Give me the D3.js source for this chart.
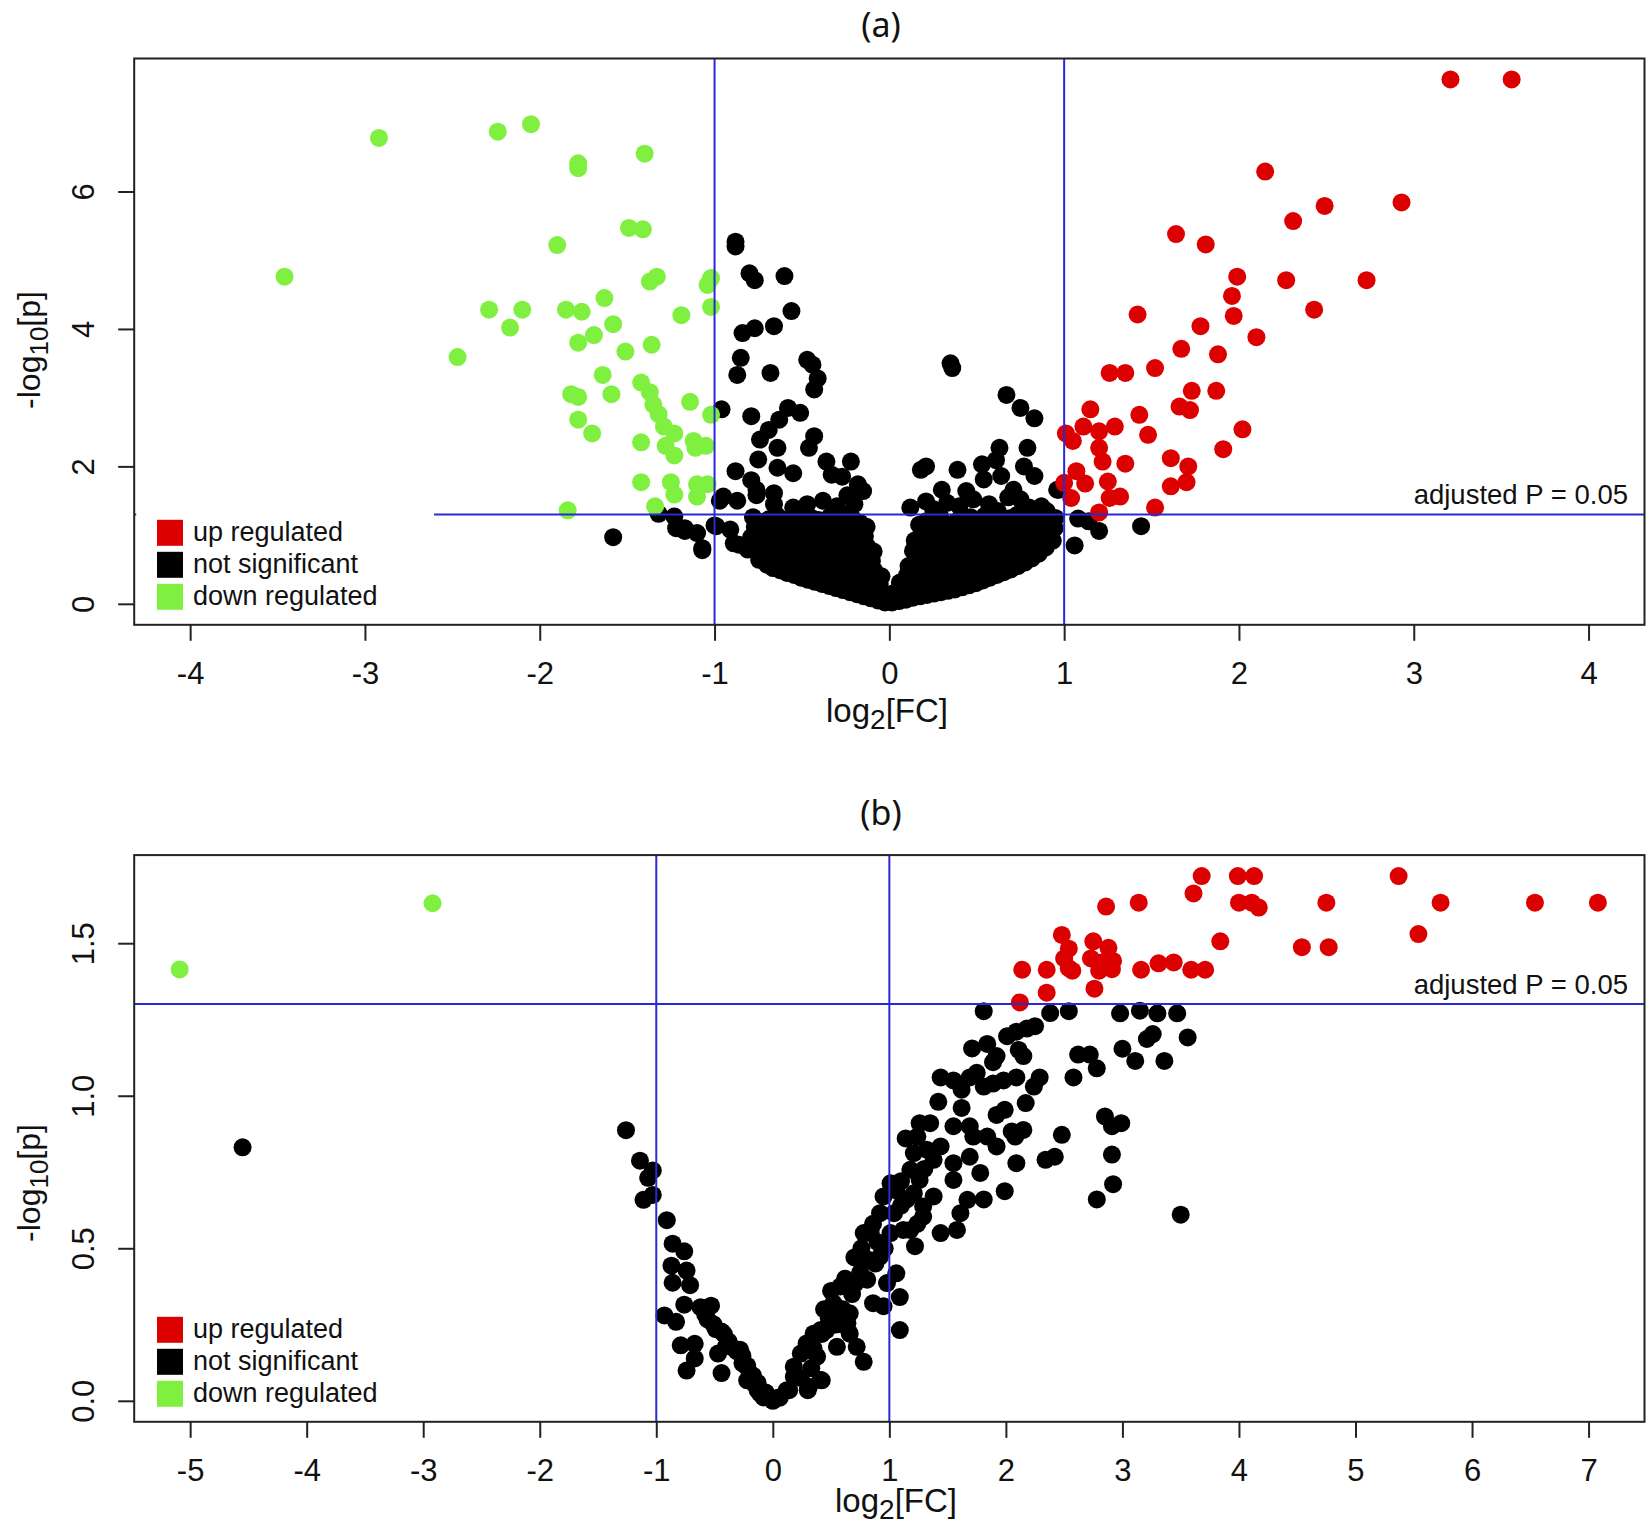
<!DOCTYPE html>
<html>
<head>
<meta charset="utf-8">
<script src="https://cdn.jsdelivr.net/npm/d3@7"></script>
<style>
  body { margin: 0; background: #fff; }
</style>
</head>
<body>
<svg id="chart" width="1650" height="1528"></svg>
<script>
// ---- panel (a): [log2 FC, -log10 p] ----
var upA = [
  [3.21,7.63],[3.56,7.63],[2.15,6.29],[2.93,5.84],[2.49,5.79],[2.31,5.57],[1.64,5.38],[1.81,5.23],
  [1.99,4.76],[2.27,4.71],[2.73,4.71],[1.96,4.48],[1.97,4.19],[2.43,4.28],[1.42,4.21],[1.78,4.04],
  [2.10,3.88],[1.67,3.71],[1.88,3.63],[1.52,3.43],[1.26,3.36],[1.35,3.36],[1.73,3.10],[1.87,3.10],
  [1.66,2.87],[1.72,2.82],[1.15,2.83],[1.43,2.75],[2.02,2.54],[1.48,2.46],[1.01,2.48],[1.05,2.37],
  [1.11,2.58],[1.20,2.51],[1.29,2.58],[1.20,2.27],[1.22,2.07],[1.91,2.25],[1.35,2.04],[1.61,2.12],
  [1.71,2.00],[1.70,1.77],[1.07,1.93],[1.12,1.75],[1.25,1.78],[1.61,1.71],[1.00,1.76],[1.04,1.54],
  [1.26,1.54],[1.32,1.56],[1.52,1.40],[1.20,1.33]
];
var downA = [
  [-2.92,6.78],[-2.24,6.87],[-2.05,6.98],[-1.40,6.55],[-1.78,6.41],[-1.78,6.34],[-1.49,5.47],[-1.41,5.45],
  [-1.90,5.22],[-3.46,4.76],[-1.37,4.69],[-1.33,4.76],[-1.02,4.74],[-1.04,4.64],[-1.02,4.32],[-1.63,4.45],
  [-2.29,4.28],[-2.10,4.28],[-2.17,4.02],[-1.85,4.28],[-1.76,4.25],[-1.58,4.07],[-1.19,4.20],[-1.69,3.91],
  [-1.78,3.80],[-1.51,3.67],[-1.36,3.77],[-2.47,3.59],[-1.64,3.33],[-1.42,3.22],[-1.37,3.08],[-1.35,2.90],
  [-1.32,2.76],[-1.82,3.05],[-1.78,3.01],[-1.59,3.05],[-1.14,2.94],[-1.02,2.75],[-1.78,2.68],[-1.70,2.48],
  [-1.29,2.58],[-1.23,2.48],[-1.28,2.30],[-1.23,2.16],[-1.12,2.37],[-1.05,2.30],[-1.11,2.27],[-1.42,2.35],
  [-1.42,1.77],[-1.25,1.77],[-1.23,1.59],[-1.10,1.74],[-1.04,1.74],[-1.10,1.56],[-1.34,1.42],[-1.84,1.36]
];
var nsA = [
  // scattered above the cut-off
  [-0.88,5.27],[-0.88,5.20],[-0.80,4.81],[-0.77,4.71],[-0.60,4.77],[-0.56,4.26],[-0.84,3.94],[-0.77,4.01],
  [-0.66,4.04],[-0.85,3.58],[-0.87,3.33],[-0.68,3.36],[-0.47,3.55],[-0.44,3.48],[-0.41,3.28],[-0.43,3.12],
  [-0.96,2.83],[-0.79,2.73],[-0.58,2.85],[-0.51,2.78],[-0.63,2.68],[-0.69,2.53],[-0.74,2.39],[-0.64,2.27],
  [-0.43,2.44],[-0.46,2.27],[-0.75,2.10],[-0.88,1.93],[-0.64,1.98],[-0.55,1.90],[-0.36,2.07],[-0.22,2.07],
  [-0.33,1.88],[-0.27,1.85],[-0.18,1.74],[-0.15,1.64],[-0.66,1.61],[-0.79,1.80],[-0.76,1.66],
  [0.36,3.43],[0.35,3.50],[0.67,3.04],[0.75,2.85],[0.83,2.70],[0.63,2.27],[0.79,2.27],[0.18,1.95],
  [0.21,2.00],[0.39,1.95],[0.53,2.03],[0.61,2.09],[0.77,2.00],[0.83,1.86],[0.30,1.66],[0.44,1.64],
  [0.54,1.81],[0.64,1.86],[0.71,1.66],[0.87,1.42],[0.97,1.66],[0.21,1.49],[0.33,1.47],[0.48,1.52],
  [0.75,1.52],[-0.97,1.50],[-0.95,1.56],[-0.87,1.50],[-0.76,1.58],[-0.66,1.45],[-0.55,1.40],[-0.47,1.45],
  [-0.38,1.50],[-0.30,1.42],[-0.24,1.58],[-0.20,1.45],[0.12,1.40],[0.25,1.38],[0.40,1.42],[0.57,1.45],
  [0.62,1.35],[0.68,1.55],[0.80,1.40],[0.90,1.35],[0.96,1.66],
  // around and beyond |FC| = 1 below the cut-off
  [-1.32,1.31],[-1.23,1.27],[-1.22,1.10],[-1.17,1.06],[-1.07,0.78],[-0.99,1.13],[-1.58,0.97],[-1.17,1.10],
  [-1.07,0.81],[-1.10,1.03],[-1.00,1.14],[-0.91,1.08],[-0.89,0.88],[-0.81,0.79],[-0.86,0.86],
  [0.95,1.25],[1.08,1.24],[1.14,1.20],[1.20,1.06],[1.06,0.85],[1.44,1.13],
  // left arm of the dense core
  [-0.79,0.97],[-0.77,1.12],[-0.78,1.26],[-0.745,0.64],[-0.73,0.81],[-0.75,1.01],[-0.735,1.19],
  [-0.70,0.57],[-0.71,0.72],[-0.69,0.89],[-0.705,1.06],[-0.69,1.23],
  [-0.665,0.52],[-0.655,0.67],[-0.67,0.83],[-0.65,0.99],[-0.665,1.16],[-0.645,1.29],
  [-0.625,0.49],[-0.61,0.62],[-0.63,0.77],[-0.615,0.93],[-0.60,1.09],[-0.625,1.24],
  [-0.585,0.45],[-0.57,0.58],[-0.59,0.74],[-0.575,0.91],[-0.56,1.06],[-0.585,1.21],
  [-0.545,0.42],[-0.53,0.56],[-0.55,0.71],[-0.535,0.87],[-0.52,1.03],[-0.545,1.18],[-0.525,1.31],
  [-0.505,0.38],[-0.49,0.51],[-0.51,0.67],[-0.495,0.83],[-0.48,0.99],[-0.505,1.14],[-0.49,1.27],
  [-0.465,0.35],[-0.45,0.48],[-0.47,0.63],[-0.455,0.79],[-0.44,0.95],[-0.465,1.11],[-0.445,1.25],
  [-0.425,0.32],[-0.41,0.44],[-0.43,0.59],[-0.415,0.75],[-0.40,0.91],[-0.425,1.06],[-0.405,1.22],
  [-0.385,0.29],[-0.37,0.41],[-0.39,0.56],[-0.375,0.71],[-0.36,0.87],[-0.385,1.03],[-0.365,1.19],
  [-0.345,0.26],[-0.33,0.38],[-0.35,0.53],[-0.335,0.69],[-0.32,0.85],[-0.345,0.99],[-0.325,1.13],[-0.34,1.27],
  [-0.305,0.23],[-0.29,0.35],[-0.31,0.49],[-0.295,0.63],[-0.28,0.79],[-0.305,0.93],[-0.285,1.07],[-0.30,1.21],
  [-0.265,0.20],[-0.25,0.31],[-0.27,0.44],[-0.255,0.58],[-0.24,0.73],[-0.265,0.87],[-0.245,1.01],[-0.26,1.16],[-0.25,1.29],
  [-0.225,0.17],[-0.21,0.27],[-0.23,0.39],[-0.215,0.53],[-0.20,0.67],[-0.225,0.81],[-0.205,0.96],[-0.22,1.10],[-0.21,1.24],
  [-0.185,0.14],[-0.17,0.23],[-0.19,0.34],[-0.175,0.47],[-0.16,0.61],[-0.185,0.76],[-0.165,0.90],[-0.18,1.04],[-0.17,1.18],
  [-0.145,0.11],[-0.13,0.19],[-0.15,0.29],[-0.135,0.41],[-0.12,0.55],[-0.145,0.69],[-0.125,0.83],[-0.14,0.98],[-0.13,1.12],
  [-0.105,0.08],[-0.09,0.15],[-0.11,0.24],[-0.095,0.35],[-0.085,0.48],[-0.10,0.62],[-0.09,0.76],
  [-0.065,0.05],[-0.05,0.11],[-0.07,0.19],[-0.055,0.29],[-0.045,0.40],
  [-0.025,0.02],[-0.015,0.07],[-0.03,0.14],
  // right arm of the dense core
  [0.015,0.02],[0.025,0.08],[0.02,0.15],[0.055,0.04],[0.065,0.11],[0.05,0.20],[0.06,0.31],
  [0.095,0.06],[0.105,0.15],[0.09,0.27],[0.10,0.41],[0.11,0.55],
  [0.135,0.09],[0.145,0.19],[0.13,0.32],[0.14,0.47],[0.15,0.62],[0.135,0.77],[0.145,0.92],
  [0.175,0.11],[0.185,0.22],[0.17,0.36],[0.18,0.52],[0.19,0.68],[0.175,0.84],[0.185,1.00],[0.17,1.15],
  [0.215,0.13],[0.225,0.25],[0.21,0.40],[0.22,0.56],[0.23,0.72],[0.215,0.88],[0.225,1.04],[0.21,1.20],
  [0.255,0.15],[0.265,0.28],[0.25,0.43],[0.26,0.60],[0.27,0.76],[0.255,0.92],[0.265,1.08],[0.25,1.25],
  [0.295,0.17],[0.305,0.30],[0.29,0.46],[0.30,0.62],[0.31,0.78],[0.295,0.95],[0.305,1.12],[0.29,1.28],
  [0.335,0.19],[0.345,0.33],[0.33,0.50],[0.34,0.66],[0.35,0.82],[0.335,0.98],[0.345,1.15],
  [0.375,0.21],[0.385,0.36],[0.37,0.52],[0.38,0.68],[0.39,0.85],[0.375,1.02],[0.385,1.20],
  [0.415,0.24],[0.425,0.38],[0.41,0.55],[0.42,0.72],[0.43,0.88],[0.415,1.05],[0.425,1.22],
  [0.455,0.27],[0.465,0.41],[0.45,0.57],[0.46,0.74],[0.47,0.90],[0.455,1.08],[0.465,1.26],
  [0.495,0.30],[0.505,0.44],[0.49,0.60],[0.50,0.76],[0.51,0.93],[0.495,1.10],
  [0.535,0.34],[0.545,0.47],[0.53,0.62],[0.54,0.78],[0.55,0.95],[0.535,1.12],[0.545,1.28],
  [0.575,0.38],[0.585,0.50],[0.57,0.65],[0.58,0.81],[0.59,0.98],[0.575,1.15],
  [0.615,0.42],[0.625,0.54],[0.61,0.69],[0.62,0.85],[0.63,1.02],[0.615,1.19],
  [0.655,0.46],[0.665,0.58],[0.65,0.73],[0.66,0.89],[0.67,1.05],[0.655,1.22],
  [0.695,0.50],[0.705,0.62],[0.69,0.77],[0.70,0.93],[0.71,1.09],[0.695,1.25],
  [0.735,0.55],[0.745,0.68],[0.73,0.83],[0.74,0.99],[0.75,1.15],[0.735,1.30],
  [0.775,0.60],[0.785,0.74],[0.77,0.89],[0.78,1.05],[0.79,1.21],
  [0.815,0.66],[0.825,0.80],[0.81,0.96],[0.82,1.12],[0.83,1.28],
  [0.855,0.73],[0.865,0.89],[0.85,1.05],[0.86,1.22],
  [0.895,0.82],[0.905,0.99],[0.89,1.15],[0.90,1.30],
  [0.935,0.92],[0.945,1.10],[0.93,1.25]
];

// ---- panel (b) ----
var upB = [
  [3.68,1.72],[3.99,1.72],[4.13,1.72],[5.37,1.72],[3.61,1.663],[3.14,1.633],[2.86,1.62],[4.00,1.633],
  [4.11,1.633],[4.17,1.617],[4.75,1.633],[5.73,1.633],[6.54,1.633],[7.08,1.633],[5.54,1.53],[3.84,1.506],
  [4.54,1.487],[4.77,1.487],[2.48,1.527],[2.54,1.482],[2.50,1.45],[2.75,1.506],[2.88,1.485],[2.73,1.45],
  [2.82,1.437],[2.92,1.442],[2.80,1.41],[2.91,1.415],[2.54,1.418],[2.57,1.41],[2.14,1.413],[2.35,1.413],
  [3.16,1.413],[3.31,1.434],[3.44,1.437],[3.59,1.413],[3.71,1.413],[2.35,1.338],[2.76,1.351],[2.12,1.306]
];
var downB = [[-5.09,1.414],[-2.92,1.631]];
var nsB = [
  [-4.55,0.831],[-1.26,0.887],[-1.14,0.787],[-1.03,0.755],[-1.07,0.731],[-1.11,0.659],[-1.03,0.675],[-0.91,0.592],
  [-0.93,0.28],[-0.83,0.259],[-0.86,0.515],[-0.76,0.49],[-0.87,0.443],[-0.74,0.427],[-0.86,0.387],[-0.71,0.379],
  [-0.76,0.315],[-0.79,0.182],[-0.67,0.187],[-0.67,0.139],[-0.74,0.099],[-0.62,0.307],[-0.53,0.312],[-0.56,0.267],
  [-0.49,0.235],[-0.42,0.219],[-0.40,0.179],[-0.47,0.155],[-0.31,0.163],[-0.26,0.123],[-0.44,0.091],[-0.22,0.067],
  [-0.13,0.035],[-0.08,0.011],[0,0],[0.05,0.011],[0.14,0.035],[0.24,0.075],[0.33,0.107],[0.42,0.219],
  [0.35,0.171],[0.30,0.035],[0.42,0.067],
  [-0.58,0.283],[-0.51,0.251],[-0.44,0.227],[-0.38,0.195],[-0.33,0.171],[-0.26,0.147],[-0.22,0.115],[-0.17,0.083],
  [-0.13,0.059],[-0.06,0.027],
  [-0.28,0.167],[-0.22,0.11],[-0.16,0.056],[-0.11,0.024],[0.06,0.01],[0.12,0.035],[0.18,0.112],[0.24,0.155],
  [0.29,0.188],[0.35,0.22],[0.41,0.232],[0.46,0.232],[0.38,0.145],[0.41,0.068],[0.31,0.046],[0.18,0.079],
  [0.32,0.166],[0.55,0.177],[0.72,0.177],[0.78,0.128],[0.52,0.32],[0.58,0.375],[0.66,0.287],[0.64,0.254],
  [0.71,0.386],[0.81,0.397],[0.86,0.32],[0.95,0.31],[0.82,0.462],[0.92,0.473],[1.06,0.418],[1.09,0.34],
  [1.09,0.232],[0.98,0.386],[0.48,0.27],[0.60,0.30],[0.68,0.35],[0.75,0.42],[0.88,0.45],[0.90,0.52],
  [0.44,0.30],[0.50,0.36],[0.62,0.40],[0.70,0.47],[0.76,0.50],[0.86,0.58],[0.96,0.50],[0.66,0.22],
  [0.60,0.25],[0.54,0.25],
  [0.78,0.55],[0.84,0.55],[0.92,0.615],[0.95,0.67],[1.01,0.713],[1.06,0.69],[1.15,0.66],[1.12,0.56],
  [1.18,0.56],[1.22,0.507],[1.04,0.615],[1.01,0.55],[1.10,0.72],[1.14,0.86],[1.30,0.76],[1.24,0.58],[1.10,0.64],
  [1.18,0.757],[1.21,0.812],[1.24,0.866],[1.26,0.91],[1.35,0.91],[1.32,0.823],[1.44,0.834],[1.38,0.79],
  [1.26,0.724],[1.21,0.68],[1.29,0.637],[1.38,0.67],[1.29,0.604],
  [1.44,0.55],[1.58,0.56],[1.61,0.615],[1.67,0.659],[1.78,0.747],[1.81,0.66],[1.55,0.724],[1.55,0.779],
  [1.69,0.80],[1.72,0.866],[1.55,0.90],[1.69,0.90],[1.84,0.866],[1.92,0.834],[1.99,0.687],[2.09,0.779],
  [2.08,0.866],[2.15,0.888],[2.05,0.883],
  [1.42,0.98],[1.62,0.96],[1.92,0.937],[1.99,0.954],[2.17,0.976],
  [1.44,1.06],[1.55,1.05],[1.62,1.02],[1.69,1.06],[1.75,1.075],[1.81,1.03],[1.89,1.04],[1.98,1.05],
  [2.09,1.06],[2.24,1.03],[2.29,1.06],
  [1.71,1.155],[1.84,1.17],[1.92,1.13],[1.89,1.11],[2.01,1.195],[2.09,1.21],[2.18,1.22],[2.25,1.228],
  [2.11,1.15],[2.15,1.13],
  [1.81,1.277],[2.38,1.271],[2.54,1.277],[2.62,1.135],[2.72,1.135],[2.78,1.09],[2.58,1.06],
  [2.85,0.932],[2.91,0.90],[2.99,0.91],[2.48,0.872],[2.42,0.80],[2.34,0.79],[2.91,0.807],[2.92,0.71],[2.78,0.66],
  [2.98,1.27],[3.15,1.279],[3.30,1.27],[3.47,1.27],[3.56,1.191],[3.21,1.186],[3.26,1.202],[3.00,1.154],
  [3.11,1.114],[3.36,1.114],[3.50,0.61]
];

var legendLabels = ["up regulated", "not significant", "down regulated"];
var legendColors = ["#dc0000", "#000000", "#80f040"];
var xTicksA = [-4, -3, -2, -1, 0, 1, 2, 3, 4];
var yTicksA = [0, 2, 4, 6];
var xTicksB = [-5, -4, -3, -2, -1, 0, 1, 2, 3, 4, 5, 6, 7];
var yTicksB = [0, 0.5, 1.0, 1.5];
var fcCut = [-1, 1];
var pCut = -Math.log10(0.05);

var panels = [
  { title: "(a)", titleY: 37, up: upA, ns: nsA, down: downA, xlim: [-4, 4],
    xTicks: xTicksA, yTicks: yTicksA, yFmt: function(d){ return String(d); },
    top: 58.5, bottom: 624.8, yLabelMid: 350, xLabelX: 887, xLabelY: 722 },
  { title: "(b)", titleY: 825, up: upB, ns: nsB, down: downB, xlim: [-5, 7],
    xTicks: xTicksB, yTicks: yTicksB, yFmt: function(d){ return d.toFixed(1); },
    top: 855.1, bottom: 1421.8, yLabelMid: 1183, xLabelX: 896, xLabelY: 1512 }
];

var font = "'Liberation Sans', Arial, sans-serif";
var left = 134.2, right = 1644.5, r = 9;
var svg = d3.select("#chart").style("font-family", font);
svg.append("rect").attr("width", 1650).attr("height", 1528).attr("fill", "#fff");

// R style 4% padding round the range
function pad(e) { var d = (e[1] - e[0]) * 0.04; return [e[0] - d, e[1] + d]; }

panels.forEach(function(p) {
  var all = p.ns.concat(p.up, p.down);
  var x = d3.scaleLinear().domain(pad(p.xlim)).range([left, right]);
  var y = d3.scaleLinear().domain(pad([0, d3.max(all, function(d){ return d[1]; })])).range([p.bottom, p.top]);
  var g = svg.append("g");

  // points: not significant, then up, then down
  [[p.ns, legendColors[1]], [p.up, legendColors[0]], [p.down, legendColors[2]]].forEach(function(s) {
    g.append("g").selectAll("circle").data(s[0]).enter().append("circle")
      .attr("cx", function(d){ return x(d[0]); })
      .attr("cy", function(d){ return y(d[1]); })
      .attr("r", r)
      .attr("fill", s[1]);
  });

  // cut-off lines
  g.selectAll("line.v").data(fcCut).enter().append("line")
    .attr("x1", function(d){ return x(d); }).attr("x2", function(d){ return x(d); })
    .attr("y1", p.top).attr("y2", p.bottom)
    .attr("stroke", "#2a2ad2").attr("stroke-width", 2);
  g.append("line")
    .attr("x1", left).attr("x2", right).attr("y1", y(pCut)).attr("y2", y(pCut))
    .attr("stroke", "#2a2ad2").attr("stroke-width", 2);
  g.append("text").attr("x", 1628).attr("y", y(pCut) - 10)
    .attr("text-anchor", "end").style("font-size", "27.5px").attr("fill", "#111")
    .text("adjusted P = 0.05");

  // axes
  var xa = g.append("g").attr("transform", "translate(0," + p.bottom + ")")
    .call(d3.axisBottom(x).tickValues(p.xTicks).tickSize(16).tickPadding(21)
      .tickFormat(function(d){ return String(d); }));
  xa.select(".domain").remove();
  xa.selectAll("line").attr("stroke", "#222").attr("stroke-width", 2);
  xa.selectAll("text").style("font-size", "31px").style("font-family", font).attr("fill", "#111");

  var ya = g.append("g").attr("transform", "translate(" + left + ",0)")
    .call(d3.axisLeft(y).tickValues(p.yTicks).tickSize(16).tickFormat(p.yFmt));
  ya.select(".domain").remove();
  ya.selectAll("line").attr("stroke", "#222").attr("stroke-width", 2);
  ya.selectAll("text")
    .attr("x", null).attr("dy", null)
    .attr("transform", "translate(-40,0) rotate(-90)")
    .attr("text-anchor", "middle")
    .style("font-size", "31px").style("font-family", font).attr("fill", "#111");

  // legend with white background
  var lgTop = p.bottom - 105;
  g.append("rect").attr("x", left + 2).attr("y", p.bottom - 118)
    .attr("width", 434 - left - 2).attr("height", 116).attr("fill", "#fff");
  legendLabels.forEach(function(lab, i) {
    g.append("rect").attr("x", 157).attr("y", lgTop + i * 32)
      .attr("width", 26).attr("height", 26).attr("fill", legendColors[i]);
    g.append("text").attr("x", 193).attr("y", lgTop + i * 32 + 21)
      .style("font-size", "27px").attr("fill", "#111").text(lab);
  });

  // box
  g.append("rect").attr("x", left).attr("y", p.top)
    .attr("width", right - left).attr("height", p.bottom - p.top)
    .attr("fill", "none").attr("stroke", "#222").attr("stroke-width", 2);

  // axis titles
  var xt = g.append("text").attr("x", p.xLabelX).attr("y", p.xLabelY)
    .attr("text-anchor", "middle").style("font-size", "33px").attr("fill", "#111");
  xt.append("tspan").text("log");
  xt.append("tspan").attr("dy", 7).style("font-size", "28px").text("2");
  xt.append("tspan").attr("dy", -7).text("[FC]");

  var yt = g.append("text").attr("transform", "translate(40," + p.yLabelMid + ") rotate(-90)")
    .attr("text-anchor", "middle").style("font-size", "32px").attr("fill", "#111");
  yt.append("tspan").text("-log");
  yt.append("tspan").attr("dy", 8).style("font-size", "26px").text("10");
  yt.append("tspan").attr("dy", -8).text("[p]");

  // panel title
  g.append("text").attr("x", 881).attr("y", p.titleY)
    .attr("text-anchor", "middle").attr("fill", "#111")
    .style("font-size", "34px")
    .style("font-family", "'Noto Sans', sans-serif")
    .text(p.title);
});
</script>
</body>
</html>
